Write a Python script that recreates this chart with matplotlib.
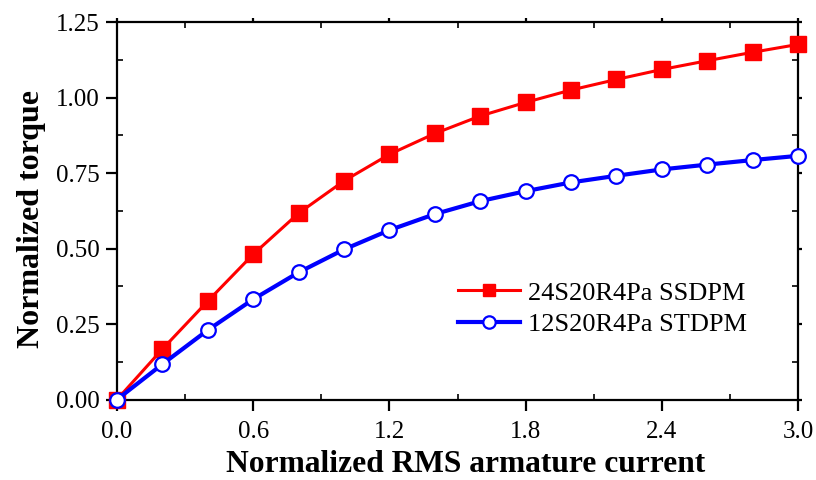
import numpy as np
import matplotlib
matplotlib.use('Agg')
import matplotlib.pyplot as plt
from matplotlib.ticker import MultipleLocator

current = [0.0, 0.2, 0.4, 0.6, 0.8, 1.0, 1.2, 1.4, 1.6, 1.8, 2.0, 2.2, 2.4, 2.6, 2.8, 3.0]
torque_ssdpm = [0.0, 0.167, 0.326, 0.481, 0.617, 0.724, 0.812, 0.881, 0.939, 0.984,
                1.025, 1.060, 1.093, 1.122, 1.150, 1.176]
torque_stdpm = [0.0, 0.117, 0.230, 0.332, 0.421, 0.497, 0.561, 0.614, 0.657, 0.690,
                0.719, 0.741, 0.762, 0.778, 0.793, 0.807]
label_ssdpm = '24S20R4Pa SSDPM'
label_stdpm = '12S20R4Pa STDPM'

plt.rcParams['font.family'] = ['Liberation Serif', 'DejaVu Serif']

fig = plt.figure(figsize=(8.16, 4.8), dpi=100)
ax = fig.add_axes([0.1434, 0.1677, 0.978 - 0.1434, 0.954 - 0.1677])

ax.plot(current, torque_ssdpm, color='#ff0000', lw=2.2, marker='s', ms=11,
        mfc='#ff0000', mec='#ff0000', label=label_ssdpm, clip_on=False, zorder=3)
ax.plot(current, torque_stdpm, color='#0000ff', lw=3.0, marker='o', ms=10.5,
        mfc='white', mec='#0000ff', mew=1.6, label=label_stdpm, clip_on=False, zorder=4)

ax.set_xlim(0, 3.0)
ax.set_ylim(0, 1.25)
ax.xaxis.set_major_locator(MultipleLocator(0.6))
ax.xaxis.set_minor_locator(MultipleLocator(0.3))
ax.yaxis.set_major_locator(MultipleLocator(0.25))
ax.yaxis.set_minor_locator(MultipleLocator(0.125))
ax.xaxis.set_major_formatter(plt.FormatStrFormatter('%.1f'))
ax.yaxis.set_major_formatter(plt.FormatStrFormatter('%.2f'))

for s in ax.spines.values():
    s.set_linewidth(1.6)

ax.tick_params(which='major', direction='out', length=8, width=1.6, labelsize=18)
ax.tick_params(which='minor', direction='in', length=4, width=1.2)
ax.tick_params(which='both', top=True, right=True)
ax.tick_params(axis='x', which='major', pad=7.5)
ax.tick_params(axis='y', which='major', pad=4.5)
# top/right ticks are only small marks
for t in ax.xaxis.get_ticklines(minor=False)[1::2] + ax.yaxis.get_ticklines(minor=False)[1::2]:
    t.set_markersize(3)

ax.set_xlabel('Normalized RMS armature current', fontsize=22.7, fontweight='bold', labelpad=5)
ax.xaxis.label.set_x(0.512)
ax.set_ylabel('Normalized torque', fontsize=23, fontweight='bold')
ax.yaxis.set_label_coords(-0.105, 0.479)

ax.legend(loc='lower right', bbox_to_anchor=(0.96, 0.105), frameon=False, fontsize=19,
          handlelength=2.35, handletextpad=0.3, labelspacing=0.3, markerscale=0.85)

fig.savefig('out.png', dpi=100)
